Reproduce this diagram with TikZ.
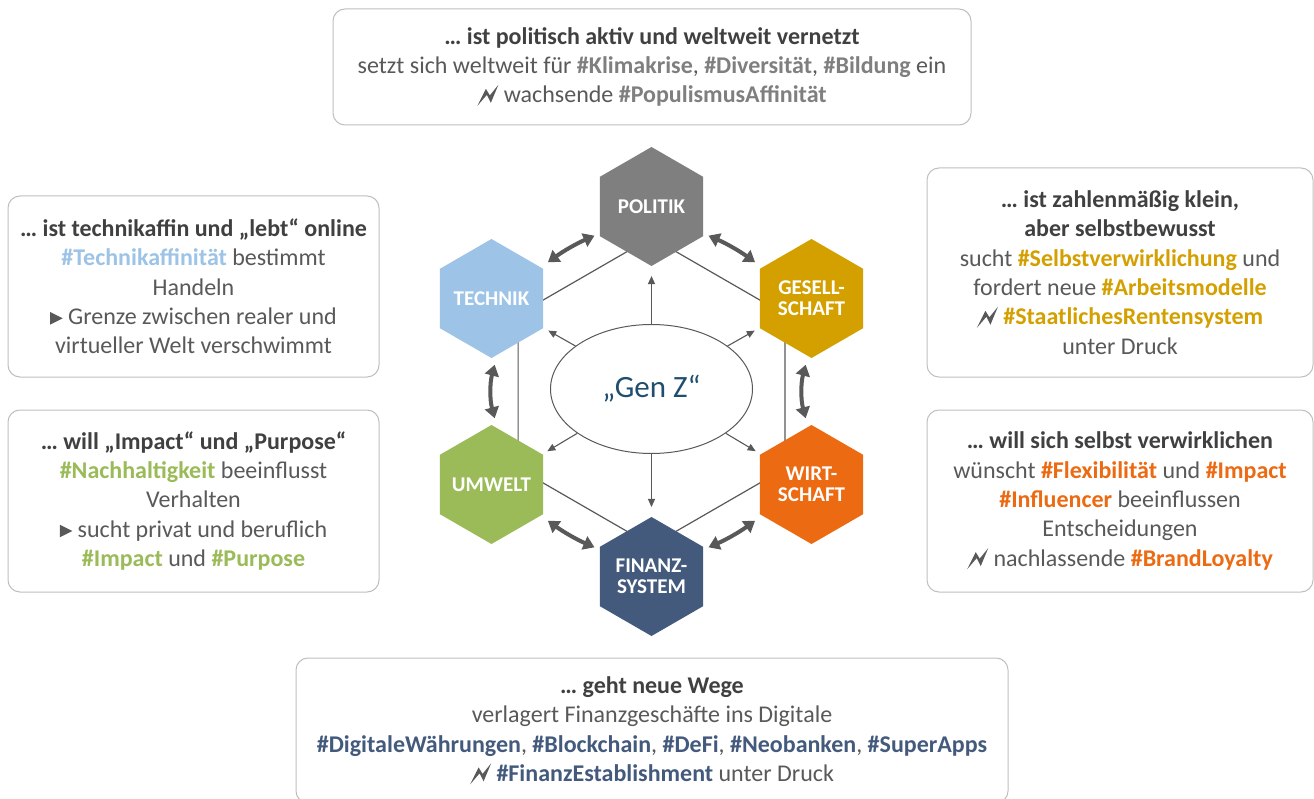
\documentclass[tikz,border=0pt]{standalone}
\usepackage{fontspec}
\setmainfont{Carlito}
\usetikzlibrary{shapes.geometric,arrows.meta}

\definecolor{txt}{HTML}{595959}
\definecolor{head}{HTML}{404040}
\definecolor{frame}{HTML}{BFBFBF}
\definecolor{cpol}{HTML}{7F7F7F}
\definecolor{ctech}{HTML}{9DC3E6}
\definecolor{cges}{HTML}{D4A000}
\definecolor{cumw}{HTML}{9BBB59}
\definecolor{cwirt}{HTML}{EC6A12}
\definecolor{cfin}{HTML}{435A7D}
\definecolor{cgenz}{HTML}{1F4E6E}
\definecolor{arr}{HTML}{595959}

% coloured bold hashtag
\newcommand{\tg}[2]{{\bfseries\color{#1}#2}}
% bold headline line
\newcommand{\hd}[1]{{\bfseries\color{head}#1}}

% inline symbols, prepared once in boxes
\newsavebox\boltbox
\newsavebox\tribox
\newcommand{\bolt}{\raisebox{-3pt}{\usebox\boltbox}}
\newcommand{\tri}{\usebox\tribox}

\tikzset{
  hexa/.style={regular polygon, regular polygon sides=6, regular polygon rotate=30,
    minimum size=119pt, inner sep=0pt, outer sep=0pt},
  hexlbl/.style={text=white, align=center, inner sep=0pt,
    font=\bfseries\fontsize{21}{21}\selectfont},
  infobox/.style={draw=frame, line width=1pt, rounded corners=12pt, fill=white,
    align=center, text=txt, inner sep=0pt, font=\fontsize{24}{29.3}\selectfont},
  ring/.style={draw=arr, line width=1.2pt},
  spoke/.style={draw=arr, line width=1.1pt, -{Triangle[width=7pt,length=8pt]}},
  dbl/.style={draw=arr, line width=4pt,
    {Triangle[width=14pt,length=11pt]}-{Triangle[width=14pt,length=11pt]}},
}

\begin{document}
% lightning bolt
\sbox\boltbox{\begin{pgfpicture}%
  \pgfsetfillcolor{txt}%
  \pgfpathmoveto{\pgfpoint{0pt}{0pt}}%
  \pgfpathlineto{\pgfpoint{8.5pt}{17pt}}%
  \pgfpathlineto{\pgfpoint{12.5pt}{10.5pt}}%
  \pgfpathlineto{\pgfpoint{21pt}{21pt}}%
  \pgfpathlineto{\pgfpoint{13.5pt}{3pt}}%
  \pgfpathlineto{\pgfpoint{9.5pt}{11pt}}%
  \pgfpathclose
  \pgfusepath{fill}%
\end{pgfpicture}}
% triangle bullet
\sbox\tribox{\begin{pgfpicture}%
  \pgfsetfillcolor{txt}%
  \pgfpathmoveto{\pgfpoint{0pt}{0pt}}%
  \pgfpathlineto{\pgfpoint{0pt}{12.5pt}}%
  \pgfpathlineto{\pgfpoint{12.5pt}{6.25pt}}%
  \pgfpathclose
  \pgfusepath{fill}%
\end{pgfpicture}}%
\begin{tikzpicture}[x=1pt,y=-1pt]
\useasboundingbox (0,0) rectangle (1314,799);
\fill[white] (0,0) rectangle (1314,799);
\clip (0,0) rectangle (1314,799);

% inner ring linking the six fields
\coordinate (r1) at (651.5,237.5);
\coordinate (r2) at (518.1,314.5);
\coordinate (r3) at (518.1,468.5);
\coordinate (r4) at (651.5,545.5);
\coordinate (r5) at (784.9,468.5);
\coordinate (r6) at (784.9,314.5);
\draw[ring] (r1)--(r2)--(r3)--(r4)--(r5)--(r6)--cycle;

% six fields
\node[hexa, fill=cpol,  label={[hexlbl]center:POLITIK}] (pol)  at (651.5,206.5) {};
\node[hexa, fill=ctech, label={[hexlbl]center:TECHNIK}] (tech) at (491.5,298.5) {};
\node[hexa, fill=cges,  label={[hexlbl]center:{GESELL-\\SCHAFT}}] (ges)  at (811.5,298.5) {};
\node[hexa, fill=cumw,  label={[hexlbl]center:UMWELT}] (umw)  at (491.5,484.5) {};
\node[hexa, fill=cwirt, label={[hexlbl]center:{WIRT-\\SCHAFT}}] (wirt) at (811.5,484.5) {};
\node[hexa, fill=cfin,  label={[hexlbl]center:{FINANZ-\\SYSTEM}}] (fin)  at (651.5,576.5) {};

% centre
\node[ellipse, draw=arr, line width=1pt, fill=white, minimum width=202pt, minimum height=129pt,
  inner sep=0pt, text=cgenz, font=\fontsize{31}{31}\selectfont] (genz) at (651.5,389) {„Gen Z“};

% spokes from the centre
\draw[spoke, shorten >=10pt] (genz) -- (pol);
\draw[spoke, shorten >=10pt] (genz) -- (fin);
\draw[spoke, shorten >=6pt] (genz) -- (tech);
\draw[spoke, shorten >=6pt] (genz) -- (ges);
\draw[spoke, shorten >=6pt] (genz) -- (umw);
\draw[spoke, shorten >=6pt] (genz) -- (wirt);

% mutual influence
\draw[dbl, shorten <=6pt, shorten >=6pt] ([yshift=3pt]tech.30) to[bend left=6] ([yshift=3pt]pol.210);
\draw[dbl, shorten <=6pt, shorten >=6pt] ([yshift=3pt]pol.330) to[bend left=6] ([yshift=3pt]ges.150);
\draw[dbl, shorten <=7pt, shorten >=7pt] ([xshift=5pt]tech.south) to[bend right=15] ([xshift=5pt]umw.north);
\draw[dbl, shorten <=7pt, shorten >=7pt] ([xshift=-4pt]ges.south) to[bend right=15] ([xshift=-4pt]wirt.north);
\draw[dbl, shorten <=6pt, shorten >=6pt] ([yshift=-3pt]umw.330) to[bend right=6] ([yshift=-3pt]fin.150);
\draw[dbl, shorten <=6pt, shorten >=6pt] ([yshift=-3pt]fin.30) to[bend right=6] ([yshift=-3pt]wirt.210);

% text boxes
\node[infobox, minimum width=638pt, minimum height=116pt] (bpol) at (652,67) {%
  \hd{… ist politisch aktiv und weltweit vernetzt}\\
  setzt sich weltweit für \tg{cpol}{\#Klimakrise}, \tg{cpol}{\#Diversität}, \tg{cpol}{\#Bildung} ein\\
  \bolt\ wachsende \tg{cpol}{\#PopulismusAffinität}};

\node[infobox, minimum width=371pt, minimum height=181pt] (btech) at (193.5,286.5) {%
  \hd{… ist technikaffin und „lebt“ online}\\
  \tg{ctech}{\#Technikaffinität} bestimmt\\
  Handeln\\
  \tri\ Grenze zwischen realer und\\
  virtueller Welt verschwimmt};

\node[infobox, minimum width=371pt, minimum height=182pt] (bumw) at (193.5,501) {%
  \hd{… will „Impact“ und „Purpose“}\\
  \tg{cumw}{\#Nachhaltigkeit} beeinflusst\\
  Verhalten\\
  \tri\ sucht privat und beruflich\\
  \tg{cumw}{\#Impact} und \tg{cumw}{\#Purpose}};

\node[infobox, minimum width=386pt, minimum height=209pt] (bges) at (1120,272.5) {%
  \hd{… ist zahlenmäßig klein,}\\
  \hd{aber selbstbewusst}\\
  sucht \tg{cges}{\#Selbstverwirklichung} und\\
  fordert neue \tg{cges}{\#Arbeitsmodelle}\\
  \bolt\ \tg{cges}{\#StaatlichesRentensystem}\\
  unter Druck};

\node[infobox, minimum width=386pt, minimum height=182pt] (bwirt) at (1120,501) {%
  \hd{… will sich selbst verwirklichen}\\
  wünscht \tg{cwirt}{\#Flexibilität} und \tg{cwirt}{\#Impact}\\
  \tg{cwirt}{\#Influencer} beeinflussen\\
  Entscheidungen\\
  \bolt\ nachlassende \tg{cwirt}{\#BrandLoyalty}};

\node[infobox, minimum width=712pt, minimum height=145pt] (bfin) at (652,730.5) {%
  \hd{… geht neue Wege}\\
  verlagert Finanzgeschäfte ins Digitale\\
  \tg{cfin}{\#DigitaleWährungen}, \tg{cfin}{\#Blockchain}, \tg{cfin}{\#DeFi}, \tg{cfin}{\#Neobanken}, \tg{cfin}{\#SuperApps}\\
  \bolt\ \tg{cfin}{\#FinanzEstablishment} unter Druck};
\end{tikzpicture}
\end{document}
